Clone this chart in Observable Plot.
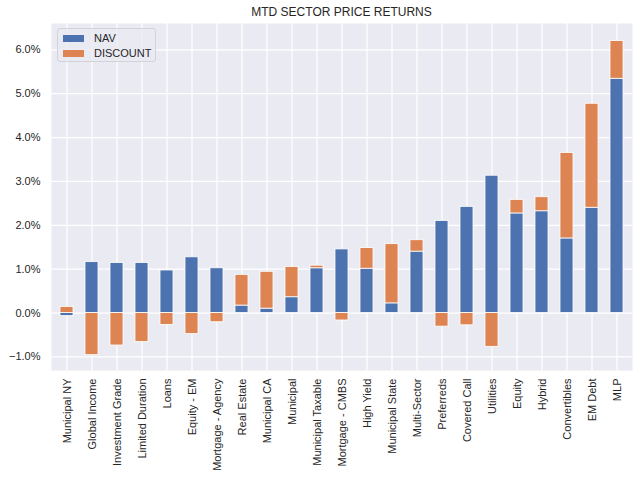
<!DOCTYPE html>
<html><head><meta charset="utf-8">
<script src="https://cdn.jsdelivr.net/npm/d3@7"></script>
<script src="https://cdn.jsdelivr.net/npm/@observablehq/plot@0.6"></script>
<style>
body{margin:0;background:#fff;font-family:"Liberation Sans",Arial,sans-serif;}
#wrap{position:relative;width:640px;height:484px;overflow:hidden;}
#title{position:absolute;left:51px;width:581px;top:5px;text-align:center;font-size:12px;color:#262626;}
#chart{position:absolute;left:0;top:23px;}
#legend{position:absolute;left:57px;top:28px;width:99px;height:34px;background:rgba(234,234,242,0.8);border:1px solid #d2d2d8;border-radius:3px;box-sizing:border-box;font-size:11px;color:#262626;}
.item{position:absolute;left:5px;height:14px;line-height:14px;}
.sw{display:inline-block;width:21px;height:7px;vertical-align:middle;margin-right:10px;position:relative;top:-1px;}
</style>
</head><body>
<div id="wrap">
  <div id="title">MTD SECTOR PRICE RETURNS</div>
  <div id="chart"></div>
  <div id="legend">
    <div class="item" style="top:2px"><span class="sw" style="background:#4C72B0"></span>NAV</div>
    <div class="item" style="top:17px"><span class="sw" style="background:#DD8452"></span>DISCOUNT</div>
  </div>
</div>
<script>
const sectors = ["Municipal NY","Global Income","Investment Grade","Limited Duration","Loans","Equity - EM","Mortgage - Agency","Real Estate","Municipal CA","Municipal","Municipal Taxable","Mortgage - CMBS","High Yield","Municipal State","Multi-Sector","Preferreds","Covered Call","Utilities","Equity","Hybrid","Convertibles","EM Debt","MLP"];
const nav = [-0.07,1.16,1.14,1.14,0.97,1.27,1.02,0.17,0.10,0.36,1.02,1.45,1.01,0.22,1.40,2.10,2.42,3.13,2.27,2.32,1.70,2.40,5.34];
const discount = [0.14,-0.96,-0.74,-0.66,-0.27,-0.48,-0.21,0.70,0.84,0.69,0.06,-0.17,0.47,1.35,0.26,-0.31,-0.28,-0.77,0.31,0.32,1.95,2.37,0.86];
const seriesNames = ["NAV","DISCOUNT"];
const seriesColors = ["#4C72B0","#DD8452"];
const yTicks = [-1,0,1,2,3,4,5,6];

const rows = [];
sectors.forEach((s,i)=>rows.push({sector:s, series:"NAV", value:nav[i]}));
sectors.forEach((s,i)=>rows.push({sector:s, series:"DISCOUNT", value:discount[i]}));

const fmt = d => (d < 0 ? "\u2212" : "") + Math.abs(d).toFixed(1) + "%";

const chart = Plot.plot({
  width: 640,
  height: 461,
  marginTop: 0,
  marginBottom: 114,
  marginLeft: 51,
  marginRight: 8,
  style: {fontSize: "11px", fontFamily: "'Liberation Sans', Arial, sans-serif", color: "#262626", background: "transparent"},
  x: {domain: sectors, paddingInner: 0.5, paddingOuter: 0.25, label: null},
  y: {domain: [-1.31, 6.6], label: null},
  color: {domain: seriesNames, range: seriesColors},
  marks: [
    Plot.frame({fill: "#EAEAF2", stroke: null}),
    Plot.gridY(yTicks, {stroke: "white", strokeOpacity: 1, strokeWidth: 1.2}),
    Plot.gridX({stroke: "white", strokeOpacity: 1, strokeWidth: 1.2}),
    Plot.barY(rows, {x: "sector", y: "value", fill: "series", stroke: "white", strokeWidth: 0.8}),
    Plot.axisY(yTicks, {tickSize: 0, tickPadding: 11, tickFormat: fmt, label: null}),
    Plot.axisX({tickRotate: -90, tickSize: 0, tickPadding: 8, label: null})
  ]
});
document.getElementById("chart").appendChild(chart);
</script>
</body></html>
